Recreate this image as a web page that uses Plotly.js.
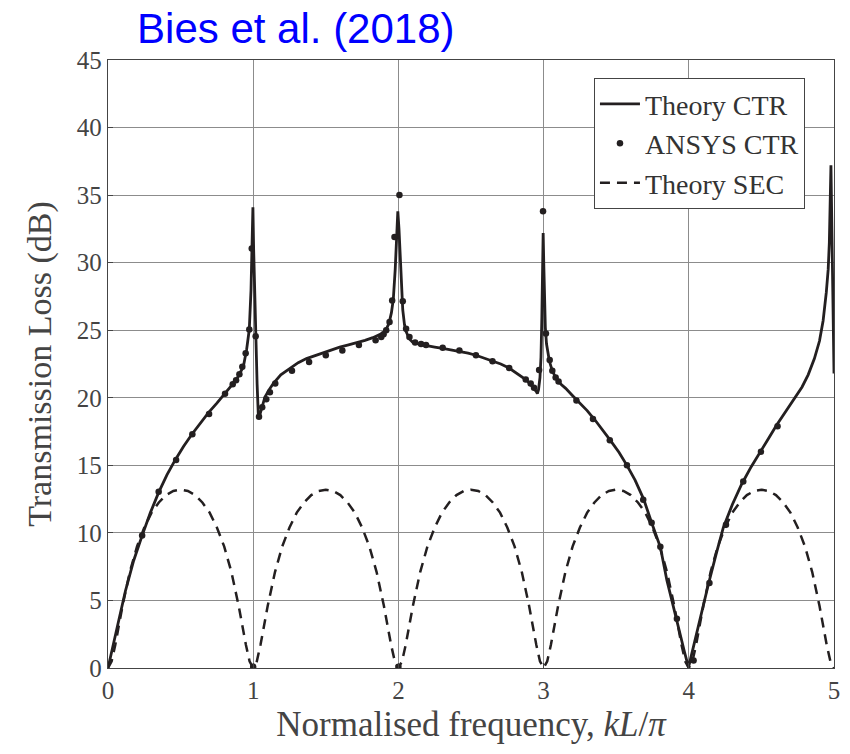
<!DOCTYPE html>
<html>
<head>
<meta charset="utf-8">
<script src="https://cdn.plot.ly/plotly-3.0.1.min.js"></script>
<style>
  html, body { margin: 0; padding: 0; background: #fff; }
  #chart { width: 850px; height: 754px; }
</style>
</head>
<body>
<div id="chart"></div>
<script>
// Theory CTR (solid line)
const theoryCtrX = [0, 0.03, 0.063, 0.12, 0.177, 0.235, 0.292, 0.349, 0.406, 0.463, 0.52, 0.578, 0.635, 0.692, 0.75, 0.806, 0.85, 0.887, 0.915, 0.932, 0.955, 0.973, 0.985, 0.993, 0.998, 1.003, 1.01, 1.017, 1.027, 1.035, 1.04, 1.05, 1.065, 1.081, 1.11, 1.138, 1.19, 1.253, 1.31, 1.367, 1.42, 1.481, 1.54, 1.596, 1.65, 1.71, 1.77, 1.824, 1.87, 1.893, 1.915, 1.935, 1.952, 1.965, 1.978, 1.988, 1.996, 2.004, 2.012, 2.02, 2.03, 2.042, 2.053, 2.076, 2.1, 2.15, 2.19, 2.25, 2.305, 2.36, 2.419, 2.48, 2.534, 2.59, 2.648, 2.705, 2.762, 2.82, 2.877, 2.91, 2.935, 2.95, 2.957, 2.965, 2.975, 2.982, 2.988, 2.993, 2.997, 3.001, 3.006, 3.012, 3.02, 3.03, 3.04, 3.06, 3.083, 3.12, 3.152, 3.2, 3.243, 3.3, 3.358, 3.41, 3.46, 3.52, 3.574, 3.63, 3.689, 3.746, 3.804, 3.849, 3.88, 3.907, 3.94, 3.97, 3.998, 4.03, 4.07, 4.1, 4.135, 4.19, 4.238, 4.3, 4.364, 4.43, 4.49, 4.55, 4.604, 4.67, 4.73, 4.78, 4.822, 4.865, 4.9, 4.925, 4.947, 4.96, 4.968, 4.974, 4.979, 5.0];
const theoryCtrY = [0, 1.5, 3.0, 5.7, 7.96, 9.8, 11.5, 13.0, 14.3, 15.4, 16.4, 17.3, 18.1, 18.9, 19.6, 20.3, 20.9, 21.4, 21.9, 22.3, 23.6, 25.05, 28, 31.5, 34.1, 31, 27.5, 24.5, 21, 18.8, 18.5, 18.9, 19.5, 20.06, 20.6, 21.05, 21.7, 22.2, 22.6, 22.9, 23.1, 23.35, 23.55, 23.75, 23.9, 24.05, 24.25, 24.45, 24.65, 24.8, 25.05, 25.5, 26.3, 27.3, 29.5, 32, 33.8, 32.5, 30.5, 28.3, 26.5, 25.4, 24.9, 24.35, 24.1, 23.95, 23.85, 23.75, 23.65, 23.55, 23.45, 23.3, 23.15, 22.95, 22.75, 22.5, 22.2, 21.8, 21.35, 21.0, 20.7, 20.45, 20.3, 20.6, 21.5, 23, 26, 30, 32.2, 30, 27.5, 25.2, 24.0, 23.2, 22.7, 22.0, 21.5, 21.0, 20.7, 20.15, 19.7, 19.05, 18.3, 17.6, 16.85, 15.95, 15.0, 13.9, 12.5, 10.7, 8.95, 6.5, 5.1, 4.0, 2.6, 1.2, 0.05, 1.5, 3.2, 4.6, 6.2, 8.5, 10.4, 12.1, 13.6, 14.9, 16.0, 17.0, 17.96, 19.05, 20.06, 20.8, 21.7, 22.9, 24.2, 25.7, 27.8, 29.5, 31.5, 34.0, 37.2, 21.8];

// ANSYS CTR (dots)
const ansysX = [0.235, 0.349, 0.469, 0.581, 0.696, 0.806, 0.859, 0.882, 0.905, 0.925, 0.948, 0.973, 0.99, 1.0, 1.017, 1.04, 1.062, 1.09, 1.115, 1.152, 1.267, 1.385, 1.5, 1.614, 1.728, 1.843, 1.882, 1.898, 1.916, 1.939, 1.957, 1.973, 2.007, 2.0, 2.03, 2.053, 2.076, 2.115, 2.156, 2.19, 2.305, 2.42, 2.534, 2.648, 2.763, 2.877, 2.911, 2.934, 2.969, 2.996, 3.016, 3.042, 3.06, 3.083, 3.103, 3.226, 3.34, 3.456, 3.574, 3.686, 3.744, 3.804, 3.918, 4.033, 4.142, 4.256, 4.375, 4.497, 4.611];
const ansysY = [9.8, 13.05, 15.4, 17.3, 18.8, 20.3, 21.0, 21.3, 21.75, 22.3, 23.3, 25.05, 31.05, 0.1, 24.55, 18.6, 19.3, 19.9, 20.4, 21.05, 22.0, 22.65, 23.15, 23.5, 23.9, 24.26, 24.5, 24.7, 25.0, 25.6, 27.2, 31.9, 35.0, 0.1, 27.15, 25.1, 24.5, 24.1, 23.98, 23.9, 23.7, 23.5, 23.15, 22.7, 22.2, 21.35, 21.05, 20.75, 22.05, 33.8, 24.75, 22.8, 22.0, 21.5, 21.2, 19.8, 18.43, 16.85, 15.0, 12.45, 10.75, 8.97, 3.64, 0.55, 6.3, 10.6, 13.8, 16.0, 17.9];

// Theory SEC (dashed line)
const theorySecX = [0, 0.025, 0.05, 0.1, 0.15, 0.2, 0.25, 0.3, 0.35, 0.4, 0.45, 0.5, 0.55, 0.6, 0.65, 0.7, 0.75, 0.8, 0.85, 0.9, 0.95, 0.975,
  1.0, 1.025, 1.05, 1.1, 1.15, 1.2, 1.25, 1.3, 1.35, 1.4, 1.45, 1.5, 1.55, 1.6, 1.65, 1.7, 1.75, 1.8, 1.85, 1.9, 1.95, 1.975,
  2.0, 2.025, 2.05, 2.1, 2.15, 2.2, 2.25, 2.3, 2.35, 2.4, 2.45, 2.5, 2.55, 2.6, 2.65, 2.7, 2.75, 2.8, 2.85, 2.9, 2.95, 2.975,
  3.0, 3.025, 3.05, 3.1, 3.15, 3.2, 3.25, 3.3, 3.35, 3.4, 3.45, 3.5, 3.55, 3.6, 3.65, 3.7, 3.75, 3.8, 3.85, 3.9, 3.95, 3.975,
  4.0, 4.025, 4.05, 4.1, 4.15, 4.2, 4.25, 4.3, 4.35, 4.4, 4.45, 4.5, 4.55, 4.6, 4.65, 4.7, 4.75, 4.8, 4.85, 4.9, 4.95, 4.975, 5.0];
const theorySecY = [0, 0.5, 1.7, 4.6, 7.1, 9.0, 10.4, 11.5, 12.25, 12.8, 13.1, 13.2, 13.1, 12.8, 12.25, 11.5, 10.4, 9.0, 7.1, 4.6, 1.7, 0.5,
  0, 0.5, 1.7, 4.6, 7.1, 9.0, 10.4, 11.5, 12.25, 12.8, 13.1, 13.2, 13.1, 12.8, 12.25, 11.5, 10.4, 9.0, 7.1, 4.6, 1.7, 0.5,
  0, 0.5, 1.7, 4.6, 7.1, 9.0, 10.4, 11.5, 12.25, 12.8, 13.1, 13.2, 13.1, 12.8, 12.25, 11.5, 10.4, 9.0, 7.1, 4.6, 1.7, 0.5,
  0, 0.5, 1.7, 4.6, 7.1, 9.0, 10.4, 11.5, 12.25, 12.8, 13.1, 13.2, 13.1, 12.8, 12.25, 11.5, 10.4, 9.0, 7.1, 4.6, 1.7, 0.5,
  0, 0.5, 1.7, 4.6, 7.1, 9.0, 10.4, 11.5, 12.25, 12.8, 13.1, 13.2, 13.1, 12.8, 12.25, 11.5, 10.4, 9.0, 7.1, 4.6, 1.7, 0.5, 0];

const xTickVals = [0, 1, 2, 3, 4, 5];
const yTickVals = [0, 5, 10, 15, 20, 25, 30, 35, 40, 45];

const serif = '"Liberation Serif", "DejaVu Serif", serif';
const ink = '#231f20';

const traces = [
  { x: theoryCtrX, y: theoryCtrY, type: 'scatter', mode: 'lines', name: 'Theory CTR',
    line: { color: ink, width: 2.8 } },
  { x: ansysX, y: ansysY, type: 'scatter', mode: 'markers', name: 'ANSYS CTR',
    marker: { color: ink, size: 6.5 } },
  { x: theorySecX, y: theorySecY, type: 'scatter', mode: 'lines', name: 'Theory SEC',
    line: { color: ink, width: 2.5, dash: '10px,7px' } }
];

const layout = {
  width: 850, height: 754,
  margin: { l: 108, r: 16, t: 60, b: 86 },
  paper_bgcolor: '#ffffff', plot_bgcolor: '#ffffff',
  title: { text: 'Bies et al. (2018)', font: { family: '"Liberation Sans", Arial, sans-serif', size: 42, color: '#0000ff' },
    xref: 'container', yref: 'container', x: 0.348, xanchor: 'center', y: 0.963, yanchor: 'middle' },
  showlegend: true,
  legend: { x: 0.96, xanchor: 'right', y: 0.97, yanchor: 'top', bgcolor: '#ffffff', bordercolor: '#444', borderwidth: 1,
    font: { family: serif, size: 28, color: '#333' }, tracegroupgap: 0, itemwidth: 40 },
  xaxis: { range: [0, 5], tickvals: xTickVals, showgrid: true, gridcolor: '#8c8c8c', gridwidth: 1.2,
    zeroline: false, showline: true, mirror: true, linecolor: '#444', linewidth: 1.3,
    ticks: 'inside', ticklen: 5, tickcolor: '#444',
    tickfont: { family: serif, size: 25, color: '#444' },
    title: { text: 'Normalised frequency, <i>kL</i>/<i>π</i>', font: { family: serif, size: 35, color: '#444' }, standoff: 8 } },
  yaxis: { range: [0, 45], tickvals: yTickVals, showgrid: true, gridcolor: '#8c8c8c', gridwidth: 1.2,
    zeroline: false, showline: true, mirror: true, linecolor: '#444', linewidth: 1.3,
    ticks: 'inside', ticklen: 5, tickcolor: '#444',
    tickfont: { family: serif, size: 25, color: '#444' },
    title: { text: 'Transmission Loss (dB)', font: { family: serif, size: 34, color: '#444' }, standoff: 14 } }
};

Plotly.newPlot('chart', traces, layout, { staticPlot: true, displayModeBar: false });
</script>
</body>
</html>
